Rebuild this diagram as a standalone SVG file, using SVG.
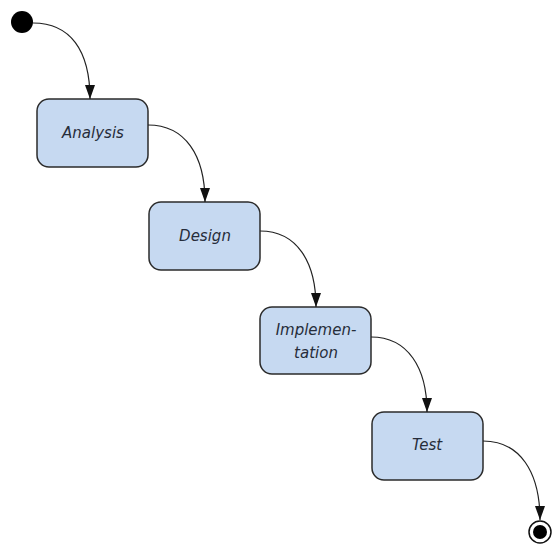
<svg xmlns="http://www.w3.org/2000/svg" width="559" height="549" viewBox="0 0 559 549">
<style>
.box{fill:#c6d9f1;stroke:#2b2b2b;stroke-width:1.5}
.lbl{font-family:"DejaVu Sans","Liberation Sans",sans-serif;font-style:italic;font-size:15px;fill:#262d3a;text-anchor:middle}
.edge{fill:none;stroke:#222;stroke-width:1.2}
</style>
<defs>
<marker id="ah" viewBox="0 0 14 10" refX="14" refY="5" markerWidth="14" markerHeight="10" markerUnits="userSpaceOnUse" orient="auto">
<path d="M0,0 L14,5 L0,10 Z" fill="#111"/>
</marker>
</defs>
<rect width="559" height="549" fill="#fff"/>
<g id="start"><circle cx="22" cy="22" r="11" fill="#000"/></g>
<g id="analysis"><rect class="box" x="37" y="99" width="111" height="68" rx="12"/><text class="lbl" x="93" y="138">Analysis</text></g>
<g id="design"><rect class="box" x="149" y="202" width="111" height="68" rx="12"/><text class="lbl" x="205" y="241">Design</text></g>
<g id="implementation"><rect class="box" x="260" y="307" width="111" height="67" rx="12"/><text class="lbl" x="316" y="335">Implemen-</text><text class="lbl" x="316" y="358">tation</text></g>
<g id="test"><rect class="box" x="372" y="412" width="111" height="68" rx="12"/><text class="lbl" x="427" y="450">Test</text></g>
<g id="end"><circle cx="540" cy="532" r="11" fill="#fff" stroke="#111" stroke-width="1.5"/><circle cx="540" cy="532" r="7" fill="#000"/></g>
<g id="connectors">
<path class="edge" marker-end="url(#ah)" d="M33,23 C70,23 90,50 90,99"/>
<path class="edge" marker-end="url(#ah)" d="M148,125 C185,125 205,155 205,202"/>
<path class="edge" marker-end="url(#ah)" d="M260,231 C297,231 316,262 316,307"/>
<path class="edge" marker-end="url(#ah)" d="M371,337 C408,337 427,368 427,412"/>
<path class="edge" marker-end="url(#ah)" d="M483,441 C520,441 540,472 540,520"/>
</g>
</svg>
